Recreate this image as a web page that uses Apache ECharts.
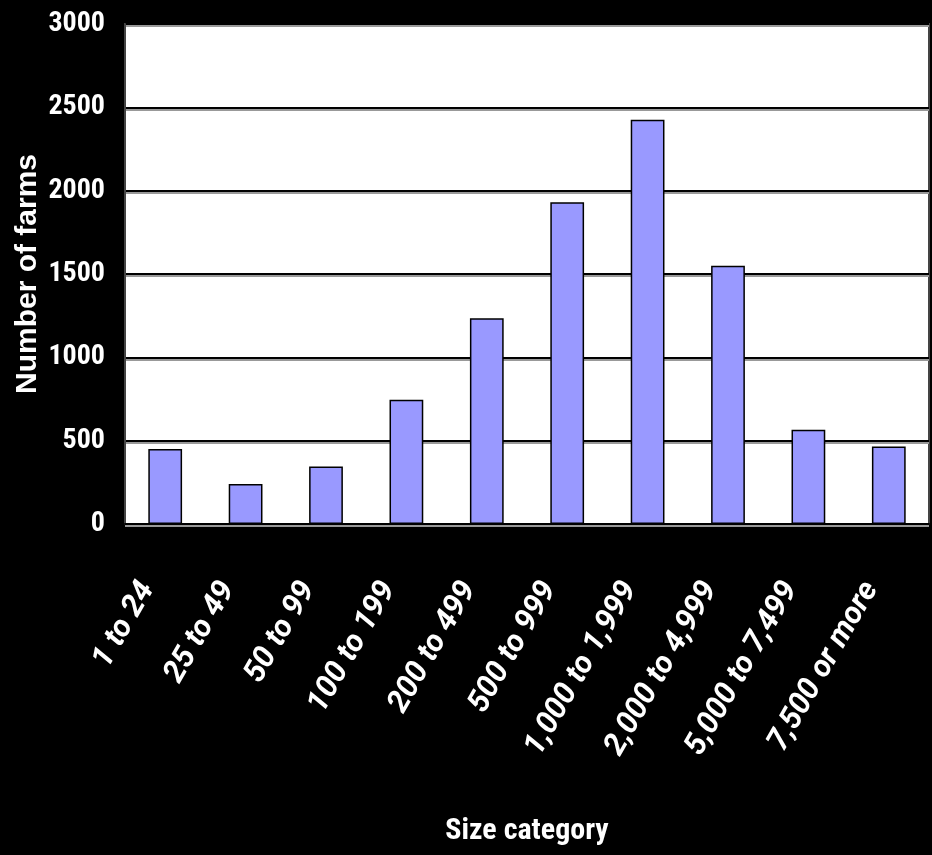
<!DOCTYPE html>
<html>
<head>
<meta charset="utf-8">
<script src="https://cdn.jsdelivr.net/npm/echarts@6/dist/echarts.min.js"></script>
<style>
html,body{margin:0;padding:0;background:#000;}
#chart{width:932px;height:855px;}
</style>
</head>
<body>
<div id="chart"></div>
<script>
var categories = ['1 to 24','25 to 49','50 to 99','100 to 199','200 to 499','500 to 999','1,000 to 1,999','2,000 to 4,999','5,000 to 7,499','7,500 or more'];
var farms = [450, 240, 345, 745, 1235, 1930, 2425, 1550, 565, 465];
var yTicks = [0, 500, 1000, 1500, 2000, 2500, 3000];
var yTitle = 'Number of farms';
var xTitle = 'Size category';

var chart = echarts.init(document.getElementById('chart'));
chart.setOption({
  backgroundColor: '#000',
  animation: false,
  grid: {
    left: 125, top: 24, right: 3, bottom: 331,
    containLabel: false,
    outerBoundsMode: 'none',
    show: true, backgroundColor: '#fff', borderColor: '#444', borderWidth: 2
  },
  xAxis: {
    type: 'category',
    data: categories,
    name: xTitle,
    nameLocation: 'middle',
    nameGap: 292,
    nameMoveOverlap: false,
    nameTextStyle: { color: '#fff', fontFamily: 'Roboto Condensed', fontWeight: 'bold', fontSize: 30 },
    axisLine: { show: true, lineStyle: { color: '#000', width: 2 } },
    axisTick: { show: false },
    axisLabel: {
      interval: 0, rotate: 60, margin: 30,
      padding: [0, 35, 0, 0],
      color: '#fff', fontFamily: 'Roboto',
      fontWeight: 'bold', fontStyle: 'italic', fontSize: 31
    }
  },
  yAxis: {
    type: 'value',
    min: yTicks[0], max: yTicks[yTicks.length - 1], interval: 500,
    name: yTitle,
    nameLocation: 'middle',
    nameGap: 82,
    nameMoveOverlap: false,
    nameTextStyle: { color: '#fff', fontFamily: 'Arial', fontWeight: 'bold', fontSize: 30 },
    axisLine: { show: true, lineStyle: { color: '#444', width: 2 } },
    axisTick: { show: false },
    axisLabel: {
      color: '#fff', fontFamily: 'Roboto Condensed', fontWeight: 'bold', fontSize: 28, margin: 20,
      formatter: function (v) { return String(v); }
    },
    splitLine: { show: true, lineStyle: { color: '#000', width: 2, shadowColor: '#999', shadowOffsetY: 2, shadowBlur: 0 } }
  },
  series: [{
    type: 'bar',
    data: farms,
    barWidth: '42%',
    itemStyle: { color: '#9999FF', borderColor: '#000', borderWidth: 1.5 }
  }]
});
</script>
</body>
</html>
